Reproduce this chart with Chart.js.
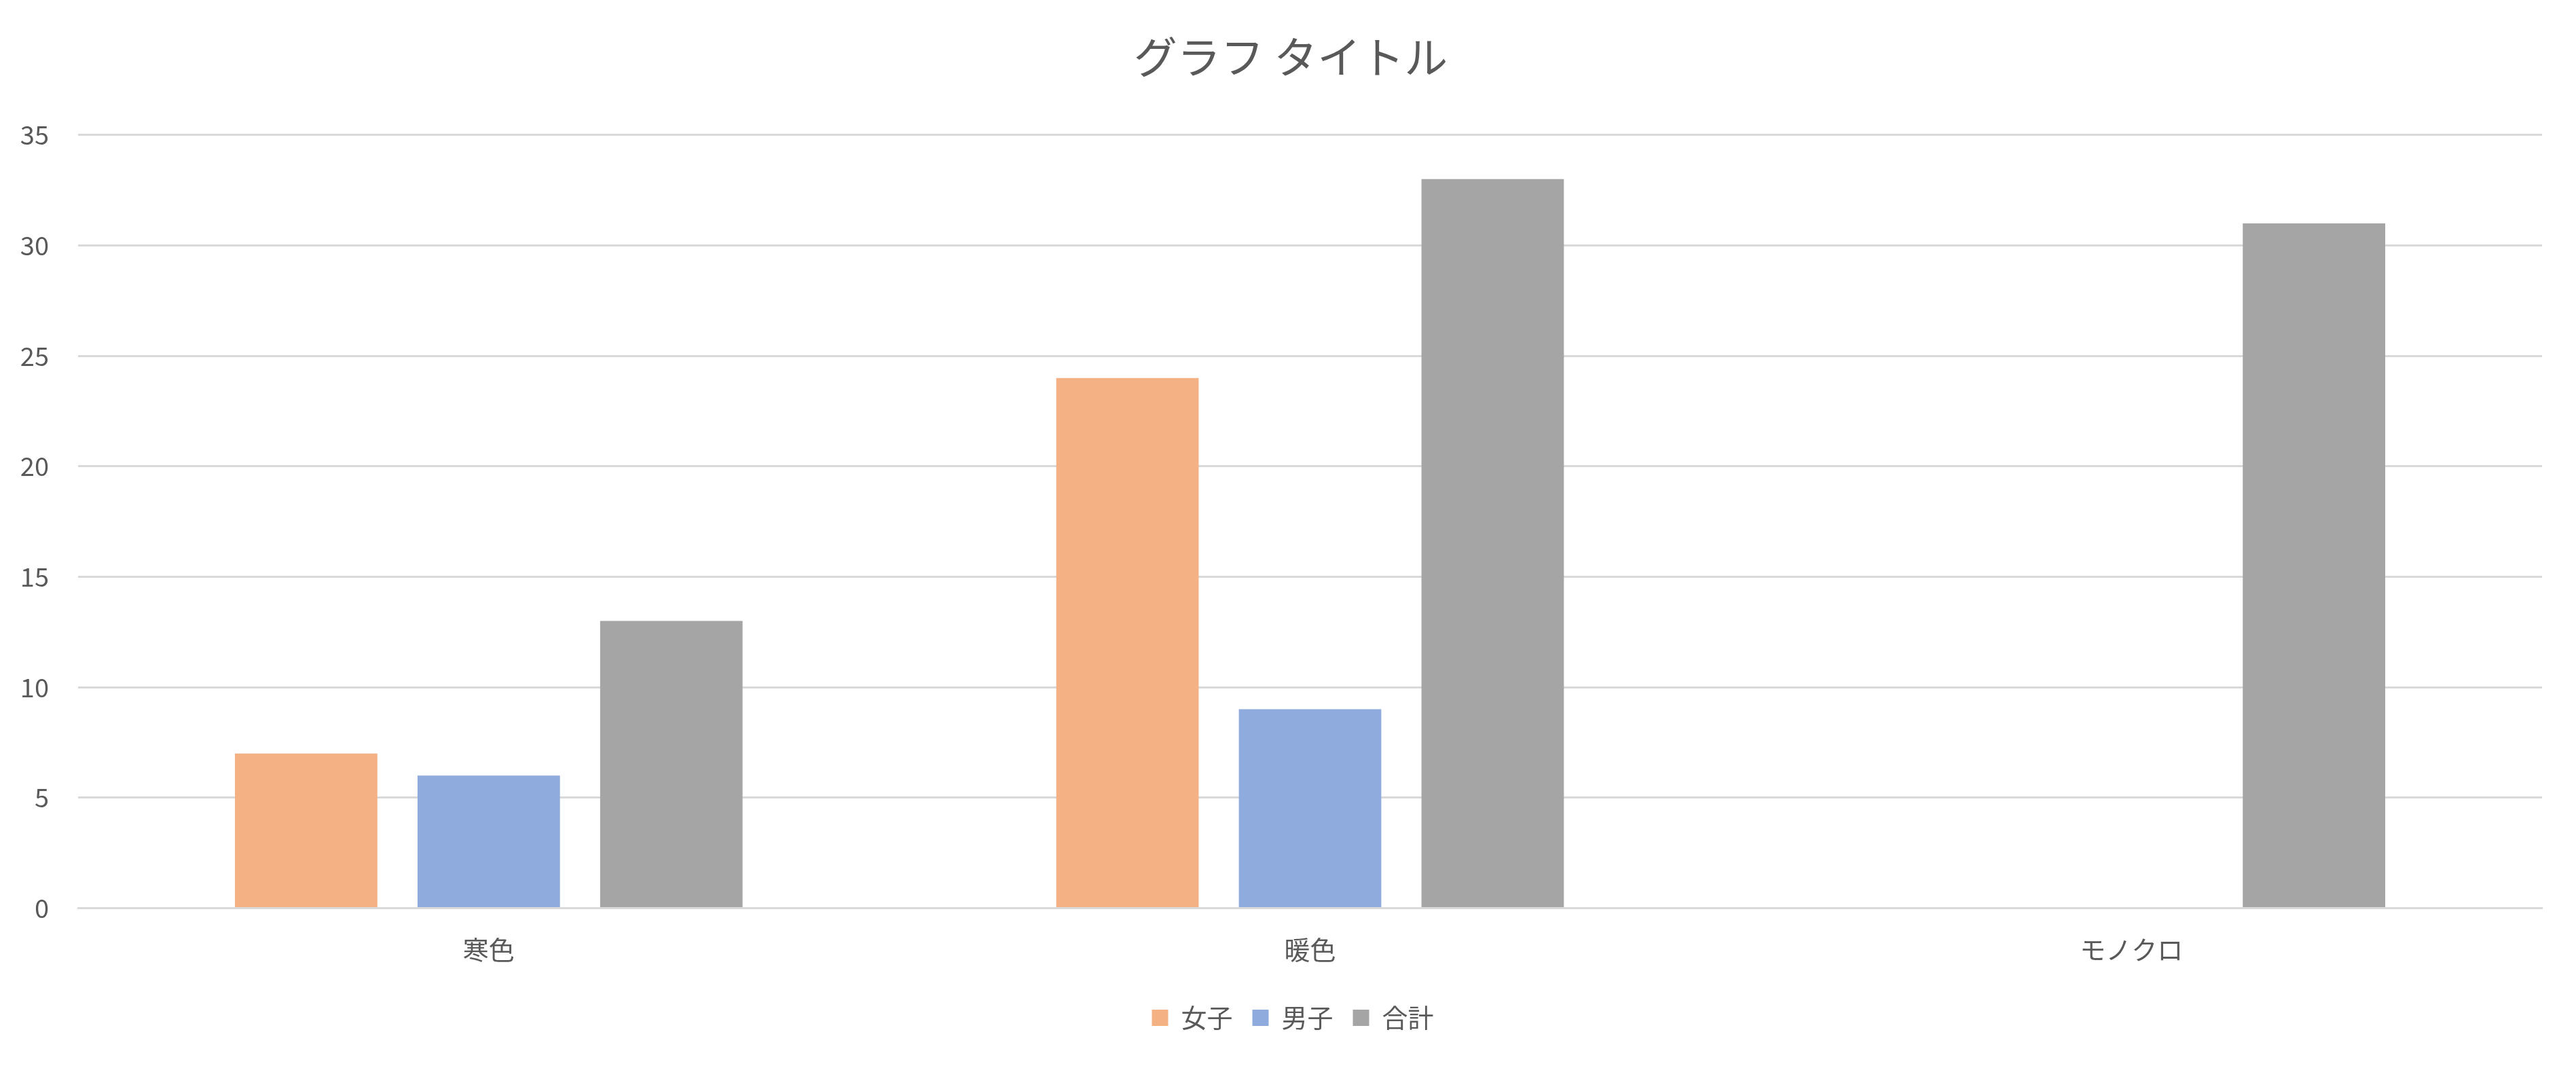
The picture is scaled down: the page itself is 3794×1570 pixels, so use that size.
<!DOCTYPE html>
<html>
<head>
<meta charset="utf-8">
<script src="https://cdn.jsdelivr.net/npm/chart.js@4"></script>
<style>
html, body { margin: 0; padding: 0; background: #ffffff; }
canvas { display: block; }
</style>
</head>
<body>
<canvas id="c" width="3794" height="1570"></canvas>
<script>
const categories = ["寒色", "暖色", "モノクロ"];
const girls = [7, 24, null];
const boys = [6, 9, null];
const totals = [13, 33, 31];
const seriesNames = ["女子", "男子", "合計"];
const seriesColors = ["#F4B183", "#8FAADC", "#A5A5A5"];
const titleText = "グラフ タイトル";
const yMax = 35;
const yStep = 5;

const FONT = "'Noto Sans CJK JP', 'Noto Sans', sans-serif";
const TEXT = "#595959";
const GRID = "#D9D9D9";

const shiftBoxes = {
  id: "shiftBoxes",
  afterLayout(chart) {
    if (chart.titleBlock) { chart.titleBlock.left += 16; chart.titleBlock.right += 16; }
    if (chart.legend) { chart.legend.left += 19; chart.legend.right += 19; }
  }
};

new Chart(document.getElementById("c"), {
  type: "bar",
  data: {
    labels: categories,
    datasets: [girls, boys, totals].map((d, i) => ({
      label: seriesNames[i],
      data: d,
      backgroundColor: seriesColors[i],
      borderWidth: 0,
      categoryPercentage: 0.667,
      barPercentage: 0.78
    }))
  },
  plugins: [shiftBoxes],
  options: {
    responsive: false,
    animation: false,
    devicePixelRatio: 1,
    layout: { padding: { left: 26, right: 50, top: 0, bottom: 42 } },
    plugins: {
      title: {
        display: true,
        text: titleText,
        color: TEXT,
        font: { family: FONT, size: 64, weight: "normal" },
        padding: { top: 45, bottom: 77 }
      },
      legend: {
        display: true,
        position: "bottom",
        labels: {
          color: TEXT,
          font: { family: FONT, size: 38 },
          boxWidth: 24,
          boxHeight: 24,
          padding: 29
        }
      },
      tooltip: { enabled: false }
    },
    scales: {
      x: {
        grid: { display: false },
        border: { display: true, color: GRID, width: 3 },
        ticks: {
          color: TEXT,
          font: { family: FONT, size: 38 },
          padding: 30
        }
      },
      y: {
        min: 0,
        max: yMax,
        ticks: {
          stepSize: yStep,
          color: TEXT,
          font: { family: FONT, size: 38 },
          padding: 43
        },
        grid: { color: GRID, lineWidth: 3, drawTicks: false },
        border: { display: false },
        afterFit: (scale) => { scale.width = 89; }
      }
    }
  }
});
</script>
</body>
</html>
